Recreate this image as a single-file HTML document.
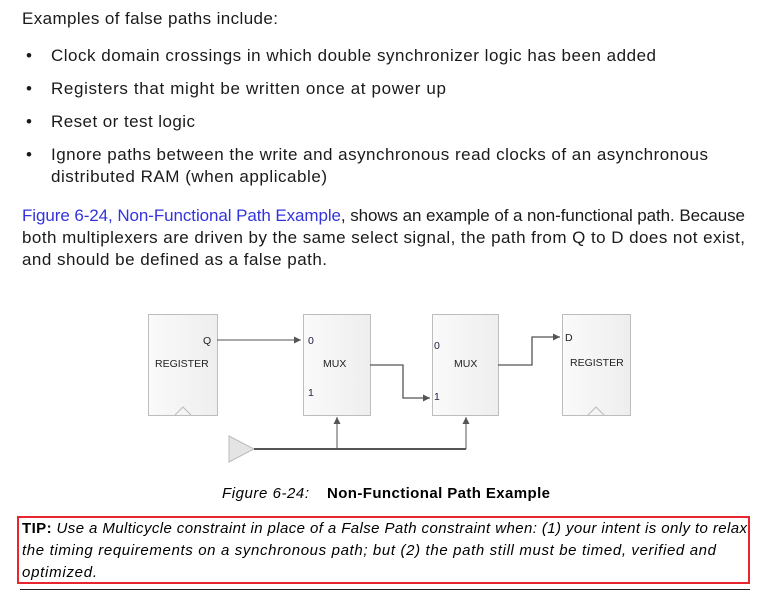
<!DOCTYPE html>
<html><head><meta charset="utf-8"><style>
body{margin:0;width:760px;height:600px;background:#fff;position:relative;overflow:hidden;font-family:"Liberation Sans",sans-serif;color:#1a1a1a}
</style></head><body>
<svg width="760" height="600" style="position:absolute;left:0;top:0" font-family="Liberation Sans,sans-serif">
<defs><linearGradient id="g" x1="0" x2="1"><stop offset="0" stop-color="#fafafa"/><stop offset="1" stop-color="#eeeeee"/></linearGradient>
<marker id="a" markerWidth="8" markerHeight="8" refX="7" refY="4" orient="auto" markerUnits="userSpaceOnUse"><path d="M0,0.5 L7,4 L0,7.5z" fill="#555"/></marker></defs>
<g font-size="17" fill="#1a1a1a" lengthAdjust="spacing">
<text x="22" y="24" textLength="256">Examples of false paths include:</text>
<text x="26" y="61">•</text><text x="51" y="61" textLength="605">Clock domain crossings in which double synchronizer logic has been added</text>
<text x="26" y="94">•</text><text x="51" y="94" textLength="395">Registers that might be written once at power up</text>
<text x="26" y="127">•</text><text x="51" y="127" textLength="144">Reset or test logic</text>
<text x="26" y="160">•</text><text x="51" y="160" textLength="657">Ignore paths between the write and asynchronous read clocks of an asynchronous</text>
<text x="51" y="182" textLength="276">distributed RAM (when applicable)</text>
<text x="22" y="221" textLength="723"><tspan fill="#3333dd">Figure 6-24, Non-Functional Path Example</tspan>, shows an example of a non-functional path. Because</text>
<text x="22" y="243" textLength="723">both multiplexers are driven by the same select signal, the path from Q to D does not exist,</text>
<text x="22" y="265" textLength="305">and should be defined as a false path.</text>
</g>
<g stroke="#bdbdbd" fill="url(#g)">
<rect x="148.5" y="314.5" width="69" height="101"/>
<rect x="303.5" y="314.5" width="67" height="101"/>
<rect x="432.5" y="314.5" width="66" height="101"/>
<rect x="562.5" y="314.5" width="68" height="101"/>
</g>
<g stroke="#bbb" fill="none"><path d="M175,415 L183,407 L191,415"/><path d="M588,415 L596,407 L604,415"/></g>
<polygon points="229,436 254,449 229,462" fill="#e4e4e4" stroke="#bbb"/>
<g stroke="#555" fill="none" stroke-width="1">
<path d="M217,340 H301" marker-end="url(#a)"/>
<path d="M370,365 H403 V398 H430" marker-end="url(#a)" stroke-width="1.3"/>
<path d="M498,365 H532 V337 H560" marker-end="url(#a)" stroke-width="1.3"/>
<path d="M254,449 H466" stroke-width="2"/>
<path d="M337,449 V417" marker-end="url(#a)"/>
<path d="M466,449 V417" marker-end="url(#a)"/>
</g>
<g font-size="10.5" fill="#222">
<text x="203" y="344">Q</text><text x="155" y="367">REGISTER</text>
<text x="308" y="344" fill="#224">0</text><text x="323" y="367">MUX</text><text x="308" y="396" fill="#224">1</text>
<text x="434" y="349" fill="#224">0</text><text x="454" y="367">MUX</text><text x="434" y="400" fill="#224">1</text>
<text x="565" y="341">D</text><text x="570" y="366">REGISTER</text>
</g>
<text x="222" y="498" font-size="15" font-style="italic" textLength="87" lengthAdjust="spacing">Figure 6-24:</text>
<text x="327" y="498" font-size="15" font-weight="bold" textLength="223" lengthAdjust="spacing">Non-Functional Path Example</text>
<rect x="18" y="517" width="731" height="66" fill="none" stroke="#e8262d" stroke-width="2"/>
<g font-size="15" font-style="italic" lengthAdjust="spacing">
<text x="22" y="533" textLength="725"><tspan font-weight="bold" font-style="normal">TIP:</tspan>  Use a Multicycle constraint in place of a False Path constraint when: (1) your intent is only to relax</text>
<text x="22" y="555" textLength="694">the timing requirements on a synchronous path; but (2) the path still must be timed, verified and</text>
<text x="22" y="577" textLength="75">optimized.</text>
</g>
<rect x="20" y="589" width="730" height="1" fill="#222"/>
</svg>
</body></html>
